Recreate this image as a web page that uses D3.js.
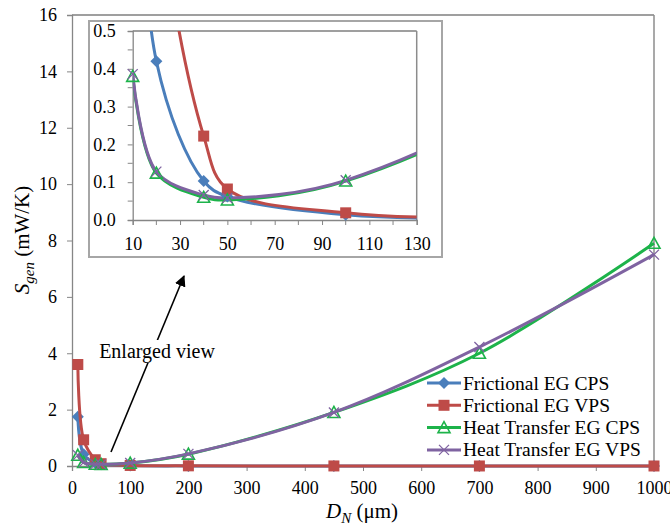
<!DOCTYPE html>
<html>
<head>
<meta charset="utf-8">
<script src="https://cdn.jsdelivr.net/npm/d3@7"></script>
</head>
<body style="margin:0;background:#fff">
<script>
// data
const diameters = [10, 20, 40, 50, 100, 200, 450, 700, 1000]
const fricCPS = [1.75, 0.42, 0.103, 0.062, 0.014, 0.004, 0.001, 0.0006, 0.0003]
const fricVPS = [3.6, 0.93, 0.222, 0.082, 0.019, 0.006, 0.002, 0.001, 0.0005]
const heatCPS = [0.38, 0.124, 0.06, 0.053, 0.103, 0.42, 1.9, 4.0, 7.9]
const heatVPS = [0.386, 0.128, 0.066, 0.058, 0.105, 0.43, 1.9, 4.22, 7.5]
const seriesNames = ['Frictional EG CPS', 'Frictional EG VPS', 'Heat Transfer EG CPS', 'Heat Transfer EG VPS']
const mainXTicks = [0, 100, 200, 300, 400, 500, 600, 700, 800, 900, 1000]
const mainYTicks = [0, 2, 4, 6, 8, 10, 12, 14, 16]
const insetXTicks = [10, 30, 50, 70, 90, 110, 130]
const insetYTicks = [0, 0.1, 0.2, 0.3, 0.4, 0.5]

const series = [
  { name: seriesNames[0], values: fricCPS, color: '#4a7ebb', marker: 'diamond' },
  { name: seriesNames[1], values: fricVPS, color: '#be4b48', marker: 'square' },
  { name: seriesNames[2], values: heatCPS, color: '#1db34a', marker: 'triangle' },
  { name: seriesNames[3], values: heatVPS, color: '#7f63a1', marker: 'cross' }
]

const FONT = "'Liberation Serif', monospace"
const w = 670
const h = 526
const svg = d3.select('body').append('svg').attr('width', w).attr('height', h)
  .style('display', 'block')

const markerPath = (type) => {
  if (type === 'diamond') return 'M0,-6L6,0L0,6L-6,0Z'
  if (type === 'square') return 'M-5.5,-5.5H5.5V5.5H-5.5Z'
  if (type === 'triangle') return 'M0,-6L6,5H-6Z'
  return 'M-5,-5L5,5M-5,5L5,-5'
}

const drawMarker = (g, type, color) => {
  const p = g.append('path').attr('d', markerPath(type))
  if (type === 'triangle') p.attr('fill', 'none').attr('stroke', color).attr('stroke-width', 1.6)
  else if (type === 'cross') p.attr('fill', 'none').attr('stroke', color).attr('stroke-width', 1.3)
  else p.attr('fill', color)
}

const line = (x, y) => d3.line()
  .x((d) => x(d[0]))
  .y((d) => y(d[1]))
  .curve(d3.curveCatmullRom.alpha(0.5))

const styleAxis = (a) => {
  a.attr('font-family', null)
  a.select('.domain').attr('stroke', '#868686').attr('stroke-width', 1.3)
  a.selectAll('.tick line').attr('stroke', '#868686')
  a.selectAll('text').attr('font-size', 18).attr('fill', '#000').style('font-family', FONT)
}

// ---- main chart
const mLeft = 72, mRight = 654, mTop = 15, mBottom = 466
const x = d3.scaleLinear().domain([0, 1000]).range([mLeft, mRight])
const y = d3.scaleLinear().domain([0, 16]).range([mBottom, mTop])

svg.append('line').attr('x1', mLeft).attr('x2', mRight).attr('y1', mTop).attr('y2', mTop)
  .attr('stroke', '#404040').attr('stroke-width', 1.2)
svg.append('line').attr('x1', mRight).attr('x2', mRight).attr('y1', mTop).attr('y2', mBottom)
  .attr('stroke', '#8c8c8c').attr('stroke-width', 1.5)

const yAxis = svg.append('g')
  .attr('transform', `translate(${mLeft},0)`)
  .call(d3.axisLeft(y).tickValues(mainYTicks).tickSize(5).tickPadding(10).tickFormat(d3.format('d')))
const xAxis = svg.append('g')
  .attr('transform', `translate(0,${mBottom})`)
  .call(d3.axisBottom(x).tickValues(mainXTicks).tickSize(5).tickPadding(10).tickFormat(d3.format('d')))
styleAxis(yAxis)
styleAxis(xAxis)

// legend
const legend = svg.append('g')
legend.append('rect').attr('x', 424).attr('y', 373).attr('width', 228).attr('height', 87).attr('fill', '#fff')
series.forEach((s, i) => {
  const ly = 383 + i * 22.3
  legend.append('line').attr('x1', 427).attr('x2', 461).attr('y1', ly).attr('y2', ly)
    .attr('stroke', s.color).attr('stroke-width', 3)
  drawMarker(legend.append('g').attr('transform', `translate(444,${ly})`), s.marker, s.color)
  legend.append('text').attr('x', 463).attr('y', ly + 6.5).attr('font-size', 19.5)
    .style('font-family', FONT).text(s.name)
})

const mainG = svg.append('g')
series.forEach((s) => {
  const pts = diameters.map((d, i) => [d, s.values[i]])
  mainG.append('path').datum(pts).attr('d', line(x, y))
    .attr('fill', 'none').attr('stroke', s.color).attr('stroke-width', 3)
  pts.forEach((p) => drawMarker(mainG.append('g').attr('transform', `translate(${x(p[0])},${y(p[1])})`), s.marker, s.color))
})

// axis titles
const yt = svg.append('text').attr('transform', 'translate(29,240) rotate(-90)')
  .attr('text-anchor', 'middle').attr('font-size', 21).style('font-family', FONT)
yt.append('tspan').attr('font-style', 'italic').text('S')
yt.append('tspan').attr('font-style', 'italic').attr('font-size', 15).attr('dy', 5).text('gen')
yt.append('tspan').attr('dy', -5).text(' (mW/K)')

const xt = svg.append('text').attr('x', 362).attr('y', 518).attr('text-anchor', 'middle')
  .attr('font-size', 21).style('font-family', FONT)
xt.append('tspan').attr('font-style', 'italic').text('D')
xt.append('tspan').attr('font-style', 'italic').attr('font-size', 15).attr('dy', 5).text('N')
xt.append('tspan').attr('dy', -5).text(' (μm)')

// arrow + label
svg.append('defs').append('marker').attr('id', 'arrow').attr('viewBox', '0 0 10 10')
  .attr('refX', 9).attr('refY', 5).attr('markerWidth', 7).attr('markerHeight', 7)
  .attr('orient', 'auto-start-reverse')
  .append('path').attr('d', 'M0,0L10,5L0,10Z').attr('fill', '#000')
svg.append('line').attr('x1', 111).attr('y1', 452).attr('x2', 184).attr('y2', 276)
  .attr('stroke', '#000').attr('stroke-width', 1.6).attr('marker-end', 'url(#arrow)')
svg.append('rect').attr('x', 95).attr('y', 340).attr('width', 126).attr('height', 23).attr('fill', '#fff')
svg.append('text').attr('x', 157).attr('y', 358).attr('text-anchor', 'middle').attr('font-size', 20)
  .style('font-family', FONT).text('Enlarged view')

// ---- inset
svg.append('rect').attr('x', 89).attr('y', 21).attr('width', 353).attr('height', 236)
  .attr('fill', '#fff').attr('stroke', '#a6a6a6').attr('stroke-width', 2)

const il = 132.7, ir = 416.7, it = 31, ib = 220
const ix = d3.scaleLinear().domain([10, 130]).range([il, ir])
const iy = d3.scaleLinear().domain([0, 0.5]).range([ib, it])

svg.append('line').attr('x1', il).attr('x2', ir).attr('y1', it).attr('y2', it)
  .attr('stroke', '#404040').attr('stroke-width', 1.2)
svg.append('line').attr('x1', ir).attr('x2', ir).attr('y1', it).attr('y2', ib)
  .attr('stroke', '#8c8c8c').attr('stroke-width', 1.5)

const iyAxis = svg.append('g').attr('transform', `translate(${il},0)`)
  .call(d3.axisLeft(iy).tickValues(insetYTicks).tickSize(5).tickPadding(12).tickFormat(d3.format('.1f')))
iyAxis.append('g').selectAll('line').data(d3.range(0.05, 0.5, 0.1)).join('line')
  .attr('x1', -5).attr('x2', 0).attr('y1', (d) => iy(d)).attr('y2', (d) => iy(d)).attr('stroke', '#868686')
const ixAxis = svg.append('g').attr('transform', `translate(0,${ib})`)
  .call(d3.axisBottom(ix).tickValues(insetXTicks).tickSize(5).tickPadding(12).tickFormat(d3.format('d')))
ixAxis.append('g').selectAll('line').data(d3.range(20, 130, 20)).join('line')
  .attr('x1', (d) => ix(d)).attr('x2', (d) => ix(d)).attr('y1', 0).attr('y2', 5).attr('stroke', '#868686')
styleAxis(iyAxis)
styleAxis(ixAxis)

svg.select('defs').append('clipPath').attr('id', 'insetClip')
  .append('rect').attr('x', il).attr('y', it).attr('width', ir - il).attr('height', ib - it + 1)
const insetG = svg.append('g').attr('clip-path', 'url(#insetClip)')
series.forEach((s) => {
  const pts = diameters.map((d, i) => [d, s.values[i]])
  insetG.append('path').datum(pts).attr('d', line(ix, iy))
    .attr('fill', 'none').attr('stroke', s.color).attr('stroke-width', 3)
})
series.forEach((s) => {
  diameters.forEach((d, i) => {
    if (d <= 130 && s.values[i] <= 0.5) {
      drawMarker(svg.append('g').attr('transform', `translate(${ix(d)},${iy(s.values[i])})`), s.marker, s.color)
    }
  })
})
</script>
</body>
</html>
